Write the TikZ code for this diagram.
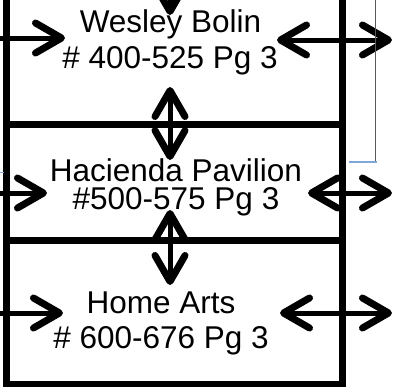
\documentclass[tikz,border=0pt]{standalone}
\usepackage{fontspec}
\setmainfont{Liberation Sans}
\usetikzlibrary{arrows.meta}
\tikzset{
  hallbox/.style={draw=black, line width=7bp},
  hallname/.style={anchor=base, inner sep=0pt, font=\fontsize{31.5bp}{36bp}\selectfont},
  onearrow/.style={line width=5bp, -{Straight Barb[length=26bp, width=30bp, line width=7bp, round]}},
  twoarrow/.style={line width=5bp, {Straight Barb[length=26bp, width=30bp, line width=7bp, round]}-{Straight Barb[length=26bp, width=30bp, line width=7bp, round]}}
}
\definecolor{cursorblue}{RGB}{127,167,216}
\begin{document}
\begin{tikzpicture}[x=1bp, y=-1bp]
        \clip (0,0) rectangle (393,387);
        \draw[hallbox] (6.5,-10) rectangle (342,124);
        \draw[hallbox] (6.5,124) rectangle (342,240);
        \draw[hallbox] (6.5,240) rectangle (342,384);
        \node[hallname] (wesley) at (170.5,32) {Wesley Bolin};
        \node[hallname] (wesley_no) at (170,68) {\# 400-525 Pg 3};
        \node[hallname] (hacienda) at (176,181) {Hacienda Pavilion};
        \node[hallname] (hacienda_no) at (176,209) {\#500-575 Pg 3};
        \node[hallname] (home) at (161,313) {Home Arts};
        \node[hallname] (home_no) at (161,348) {\# 600-676 Pg 3};
        \coordinate (top_in) at (170,-40);
        \coordinate (top_tip) at (170,15);
        \coordinate (w_in) at (-10,38);
        \coordinate (w_tip) at (65,38);
        \coordinate (w_r1) at (277,40);
        \coordinate (w_r2) at (392,40);
        \coordinate (wh_up) at (170,87);
        \coordinate (wh_dn) at (170,160);
        \coordinate (h_in) at (-10,193);
        \coordinate (h_tip) at (47,193);
        \coordinate (h_r1) at (308,193);
        \coordinate (h_r2) at (392,193);
        \coordinate (hh_up) at (170,210);
        \coordinate (hh_dn) at (170,285);
        \coordinate (a_in) at (-10,313);
        \coordinate (a_tip) at (63,313);
        \coordinate (a_r1) at (280,313);
        \coordinate (a_r2) at (392,313);
        \draw[onearrow] (top_in) -- (top_tip);
        \draw[onearrow] (w_in) -- (w_tip);
        \draw[twoarrow] (w_r1) -- (w_r2);
        \draw[twoarrow] (wh_up) -- (wh_dn);
        \draw[onearrow] (h_in) -- (h_tip);
        \draw[twoarrow] (h_r1) -- (h_r2);
        \draw[twoarrow] (hh_up) -- (hh_dn);
        \draw[onearrow] (a_in) -- (a_tip);
        \draw[twoarrow] (a_r1) -- (a_r2);
        \draw[gray!70!black, line width=0.8bp] (375,0) -- (375,162);
        \draw[cursorblue, line width=1.5bp] (349,162) -- (377,162);
        \draw[cursorblue, line width=1bp] (0,172) -- (4,172);
\end{tikzpicture}
\end{document}
